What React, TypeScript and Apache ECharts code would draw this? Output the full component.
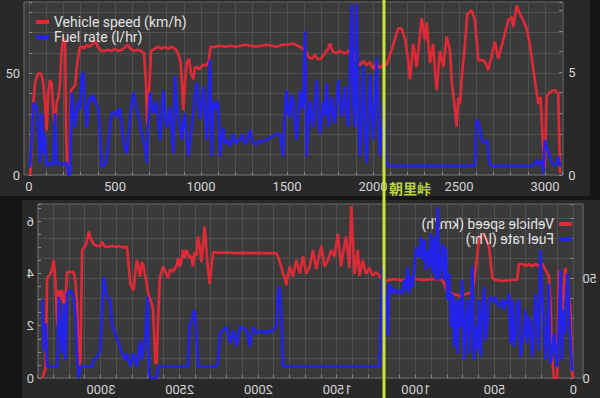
import React, { useEffect, useRef } from 'react';
import * as echarts from 'echarts';

// ---- labels ----
const speedName = 'Vehicle speed (km/h)';
const fuelName = 'Fuel rate (l/hr)';
const markerLabel = '朝里峠';
const topXLabels = [0, 500, 1000, 1500, 2000, 2500, 3000];
const topSpeedLabels = [0, 50];
const topFuelLabels = [0, 5];
const bottomSpeedLabels = [0, 50];
const bottomFuelLabels = [0, 2, 4, 6];

// ---- top chart data [distance, value] ----
const topSpeed: [number, number][] = [
  [0,0],[8,1],[18,20],[25,35],[35,45],[45,48],[54,50],[64,50],[74,49],[83,45],[93,35],[103,22],[112,40],[122,46.6],[132,45],[142,30],[151,23.7],[161,36],[171,38],[180,45],[190,62],[200,67],[210,66],[216,20],[222,1],[235,1],[245,42],[258,43],[268,44],[280,55],[296,63],[310,63],[320,62],[335,64],[350,63],[365,64],[384,66],[400,63],[420,61],[440,61],[460,61.5],[480,61],[500,62],[520,61],[540,61.5],[560,63],[575,64],[590,62],[610,61],[630,61.5],[650,61],[668,60],[680,45],[688,25],[700,45],[710,61],[730,62],[750,63],[770,62],[790,63],[810,62],[830,63],[850,62],[865,60],[880,56],[890,45],[897,32],[907,45],[917,55],[930,57],[942,50],[955,47],[965,53],[975,53],[990,52],[1010,54],[1033,54],[1045,56],[1055,63],[1080,63],[1110,63.5],[1140,63],[1170,63.5],[1200,63],[1230,63.5],[1260,64],[1290,63.5],[1320,63],[1350,63.5],[1380,64],[1410,63.5],[1440,63],[1470,64],[1500,64],[1537,64.6],[1560,63.5],[1576,63],[1595,62],[1614,60],[1625,58],[1643,57],[1663,59],[1675,57],[1692,57],[1705,58],[1721,60],[1740,62],[1750,64.6],[1760,62],[1769,60.5],[1790,60],[1808,61],[1828,60],[1847,60],[1860,61],[1876,61],[1890,58],[1905,55.5],[1924,54],[1944,56],[1963,54],[1982,55.5],[2002,52],[2021,55.5],[2035,53],[2050,53],[2065,55],[2079,54],[2110,62],[2147,72],[2166,72],[2176,69.4],[2186,67],[2205,56],[2215,47],[2234,64.5],[2254,53],[2273,69],[2283,77],[2302,66],[2312,75],[2331,55],[2350,64.5],[2360,51.5],[2370,41.7],[2389,61],[2409,53],[2428,68],[2448,61],[2457,46.6],[2477,32],[2486,23.7],[2496,38],[2506,35],[2515,46.6],[2535,64.5],[2548,79],[2573,81],[2593,76],[2612,56.4],[2641,56.4],[2655,55],[2670,51.5],[2690,58.8],[2709,65.4],[2728,57.2],[2757,66.2],[2786,76],[2806,77.6],[2816,72.7],[2835,83.3],[2854,79.2],[2873,76],[2893,72],[2910,65],[2922,58],[2941,46.6],[2961,35],[2974,38.4],[2990,12],[2999,4],[3009,38.4],[3028,40.8],[3057,41.7],[3077,40],[3087,1]
];

const topFuel: [number, number][] = [
  [0,0.4],[6,0.4],[16,1.7],[25,3.5],[35,3.4],[45,3.3],[54,2.3],[64,0.6],[74,3.0],[83,1.05],[93,2.0],[103,0.4],[112,0.6],[122,0.5],[132,0.6],[141,0.5],[151,3.0],[161,0.5],[180,0.6],[200,0.5],[219,0.6],[229,0],[238,0],[248,4.0],[258,3.2],[267,2.3],[277,3.0],[287,3.6],[297,3.2],[306,4.8],[316,5.0],[326,3.5],[335,2.3],[345,3.4],[355,3.8],[365,3.6],[374,3.9],[384,3.6],[393,3.4],[403,3.2],[413,2.0],[422,0.4],[432,0.5],[442,0.5],[451,0.8],[461,1.5],[471,2.4],[480,3.0],[490,3.0],[500,3.1],[510,2.8],[519,3.2],[529,3.2],[539,2.4],[548,1.7],[558,1.3],[568,1.05],[578,1.9],[588,2.8],[597,3.5],[607,4.0],[616,3.6],[626,3.2],[636,2.9],[645,2.5],[655,2.0],[665,1.7],[675,1.3],[684,0.6],[694,2.5],[703,4.0],[713,3.5],[723,3.0],[732,3.3],[742,3.6],[752,2.5],[762,1.7],[771,2.9],[781,4.1],[790,3.0],[800,2.3],[810,2.9],[820,3.3],[829,2.2],[839,1.05],[849,4.8],[858,3.5],[868,2.8],[878,2.3],[888,1.7],[897,2.5],[907,3.0],[916,2.0],[926,0.9],[936,1.6],[946,2.3],[956,3.2],[966,3.9],[975,4.5],[985,3.5],[994,2.7],[1004,3.5],[1014,4.3],[1024,3.0],[1033,1.7],[1043,3.5],[1052,5.6],[1062,0.9],[1072,3.6],[1085,3.2],[1100,3.6],[1110,0.9],[1120,1.8],[1130,2.3],[1140,1.5],[1149,1.7],[1160,1.6],[1170,1.4],[1180,1.8],[1188,2.0],[1200,1.5],[1215,1.7],[1227,1.7],[1240,2.0],[1255,1.5],[1270,1.7],[1285,2.2],[1300,1.6],[1315,1.5],[1324,1.5],[1340,1.7],[1355,1.6],[1370,1.7],[1382,1.7],[1400,1.8],[1420,1.9],[1440,2.0],[1459,2.0],[1478,0.9],[1490,3.5],[1498,4.1],[1507,3.0],[1517,2.8],[1527,3.9],[1537,3.6],[1546,2.5],[1556,1.7],[1566,3.0],[1576,4.1],[1586,3.2],[1595,3.6],[1605,7.0],[1614,0.9],[1624,2.5],[1634,3.6],[1643,2.8],[1653,2.35],[1662,3.5],[1672,4.6],[1682,3.0],[1692,2.0],[1701,2.8],[1711,3.6],[1720,2.9],[1730,4.45],[1740,2.35],[1750,3.2],[1759,3.8],[1769,2.8],[1779,2.5],[1788,3.6],[1798,4.6],[1808,3.5],[1818,2.84],[1828,3.5],[1837,4.3],[1847,3.0],[1857,2.35],[1866,5.0],[1876,8.3],[1886,3.6],[1895,2.35],[1905,8.3],[1914,3.0],[1924,0.9],[1934,3.0],[1944,5.3],[1953,2.5],[1963,0.57],[1972,2.5],[1982,4.9],[1992,3.0],[2002,1.7],[2011,3.5],[2021,5.7],[2031,3.0],[2041,0.9],[2050,2.0],[2060,3.6],[2066,3.0],[2072,1.05],[2083,0.45],[2200,0.45],[2300,0.46],[2400,0.45],[2500,0.45],[2593,0.45],[2602,2.7],[2612,2.5],[2622,2.35],[2631,1.7],[2641,1.6],[2651,1.54],[2665,1.7],[2676,0.57],[2690,0.45],[2800,0.45],[2932,0.45],[2951,0.73],[2965,0.5],[2980,0.7],[2990,0.08],[2999,1.7],[3008,1.4],[3018,1.2],[3028,0.9],[3038,0.57],[3057,0.49],[3070,0.6],[3077,0.9],[3087,0.4]
];

// ---- bottom chart data [distance, value] ----
const bottomSpeed: [number, number][] = [
  [0,0],[8,2],[19,36],[30,40],[40,48],[51,55],[62,45],[72,30],[82,42],[93,54],[100,20],[103,0],[124,0],[135,10],[146,40],[156,51],[177,54],[198,57],[220,56],[241,57],[262,56],[283,57],[304,56],[325,57],[346,57],[357,49],[400,49],[450,48.5],[494,49],[515,50],[536,66],[557,70],[578,72],[599,70],[620,55],[641,43],[680,42],[720,41],[760,42],[800,43],[815,46],[831,49],[880,49.5],[950,49],[1000,49.5],[1050,48.5],[1100,49],[1150,49.5],[1190,48.5],[1211,49],[1232,51],[1253,53],[1274,51],[1295,55],[1317,52],[1338,59],[1359,51],[1369,64],[1390,52],[1411,86],[1422,55],[1443,70.7],[1464,62],[1475,55.7],[1496,72],[1517,60.7],[1538,64],[1559,59],[1580,55.7],[1601,66],[1633,54.5],[1654,64],[1675,55.7],[1696,52.3],[1717,60.7],[1738,52.3],[1760,59],[1781,50.7],[1802,55.7],[1823,46.5],[1834,50.7],[1844,52],[1855,55.7],[1876,60.7],[1886,62.3],[1907,62.5],[1950,62.3],[2000,62.6],[2050,62.4],[2100,62.6],[2150,62.4],[2200,62.8],[2250,62.6],[2287,63],[2300,55],[2310,47],[2321,55],[2342,75.7],[2353,65],[2363,58],[2373,66],[2384,70.7],[2395,61],[2405,63],[2416,55.7],[2426,61],[2437,60],[2447,62],[2458,64],[2468,60],[2479,64],[2490,58],[2500,55.7],[2510,60],[2521,55.7],[2531,55],[2542,53],[2553,54],[2563,54],[2574,50],[2584,52],[2595,54],[2605,55.7],[2627,50],[2637,30],[2647,7],[2655,8],[2670,35],[2690,40],[2700,42.3],[2710,48],[2720,50.7],[2730,56],[2741,58],[2751,50.7],[2762,55],[2772,59],[2783,52],[2793,44],[2814,47],[2835,65.7],[2860,65.3],[2880,66],[2900,65.5],[2930,66],[2952,65.7],[2973,65.5],[2994,68.2],[3004,66],[3025,66],[3047,67],[3067,70],[3078,73.2],[3088,69],[3099,66],[3110,65],[3120,64],[3131,8],[3141,6],[3152,38],[3162,48],[3173,53],[3194,53],[3215,53],[3226,40],[3232,26],[3240,38],[3247,44],[3257,39],[3268,44],[3278,26],[3289,48],[3300,59],[3310,55],[3321,52],[3342,50],[3352,5],[3363,2],[3373,0]
];

const bottomFuel: [number, number][] = [
  [0,0.3],[8,0.31],[19,1.45],[30,2.98],[40,4.0],[51,1.7],[62,2.6],[72,0.69],[82,4.12],[93,1.96],[103,0.43],[114,1.1],[124,1.7],[135,0.9],[146,0.56],[156,3.61],[166,1.6],[177,0.69],[188,2.2],[198,2.98],[209,4.89],[220,1.07],[230,2.2],[241,3.23],[252,1.6],[262,0.81],[273,2.0],[283,2.34],[294,1.3],[304,2.6],[315,1.6],[325,1.45],[335,0.81],[346,2.98],[357,2.85],[367,1.6],[378,1.2],[388,2.98],[399,1.32],[409,3.23],[420,2.85],[430,2.98],[441,2.6],[452,2.98],[462,2.8],[473,2.72],[484,2.9],[494,3.1],[505,2.9],[515,2.98],[525,3.1],[536,2.98],[546,2.21],[557,1.45],[567,3.49],[578,2.47],[589,0.81],[599,2.98],[610,1.07],[620,1.96],[631,0.69],[641,4.25],[652,2.47],[662,0.94],[673,2.98],[684,1.96],[694,0.69],[705,3.74],[715,1.96],[726,2.98],[736,0.94],[747,2.98],[757,1.2],[768,3.23],[778,1.96],[789,4.0],[800,2.98],[810,5.0],[821,3.74],[831,5.14],[842,4.2],[852,3.74],[863,6.54],[873,3.74],[884,5.39],[894,4.0],[905,5.52],[916,4.25],[926,4.89],[937,4.12],[947,5.27],[958,4.5],[968,5.39],[979,4.63],[989,4.76],[1000,5.0],[1010,4.2],[1021,3.49],[1031,3.9],[1042,3.23],[1053,4.25],[1063,3.36],[1074,3.74],[1084,3.23],[1095,3.3],[1105,3.36],[1116,3.23],[1127,3.3],[1137,3.4],[1148,3.23],[1158,3.4],[1169,3.61],[1179,1.6],[1190,2.98],[1200,3.8],[1211,4.25],[1222,2.0],[1232,0.43],[1300,0.43],[1400,0.43],[1500,0.43],[1600,0.43],[1700,0.43],[1800,0.43],[1844,0.43],[1855,2.34],[1866,3.5],[1876,3.23],[1886,1.96],[1897,1.9],[1907,1.83],[1920,1.75],[1935,1.85],[1949,1.7],[1965,1.8],[1980,1.75],[1995,1.8],[2013,1.7],[2034,1.96],[2055,1.2],[2076,1.83],[2097,1.9],[2118,1.96],[2139,1.2],[2160,1.83],[2181,1.32],[2202,1.96],[2224,1.83],[2245,1.7],[2255,0.69],[2266,0.43],[2320,0.43],[2384,0.43],[2395,1.7],[2405,2.6],[2416,2.47],[2426,2.09],[2437,2.09],[2447,0.43],[2500,0.43],[2560,0.43],[2637,0.43],[2647,0],[2679,0],[2694,0.05],[2705,3.1],[2715,1.9],[2720,1.45],[2741,0.69],[2751,1.45],[2772,0.43],[2793,0.94],[2814,0.43],[2835,0.94],[2846,0.69],[2867,0.94],[2888,1.32],[2909,1.7],[2920,1.9],[2930,1.96],[2941,2.98],[2962,3.1],[2973,3.5],[2983,3.87],[2994,2.5],[3004,1.07],[3025,0.81],[3047,0.69],[3057,0.43],[3131,0.43],[3141,0],[3152,0.81],[3162,2.34],[3173,3.1],[3194,3.36],[3215,3.23],[3226,0.69],[3236,2.85],[3247,0.94],[3257,1.83],[3268,3.1],[3278,0.43],[3342,0.43],[3352,2.09],[3363,1.07],[3373,2.98]
];

const RED = '#dc2a36';
const BLUE = '#2323ea';
const LABEL = '#d4d4d4';
const GRIDLINE = '#505050';
const PLOT_BG = '#3a3a3a';
const PANEL_BG = '#292929';
const MARK = '#c8e43c';
const FONT = 'Roboto';

interface Cfg {
  xMax: number;
  speedMax: number;
  fuelMax: number;
  fuelInterval: number;
  xLabels: number[];
  speedLabels: number[];
  fuelLabels: number[];
  speed: [number, number][];
  fuel: [number, number][];
  grid: { left: number; top: number; width: number; height: number };
  plotRect: { x: number; y: number; width: number; height: number };
  panelRect: { x: number; y: number; width: number; height: number };
  legend: { left: number; top: number };
  markX: number;
  markH: number;
  withMarkText: boolean;
  speedMargin: number;
  fuelMargin: number;
}

function buildOption(c: Cfg): any {
  const tick = { show: true, inside: true, length: 3, lineStyle: { color: '#8c8c8c' } };
  const graphic: any[] = [
    { type: 'rect', z: -20, silent: true, shape: c.panelRect, style: { fill: PANEL_BG } },
    { type: 'rect', z: -10, silent: true, shape: c.plotRect, style: { fill: PLOT_BG, stroke: '#6e6e6e', lineWidth: 1 } },
    { type: 'line', z: 100, silent: true, shape: { x1: c.markX, y1: 0, x2: c.markX, y2: c.markH }, style: { stroke: MARK, lineWidth: 3 } },
  ];
  if (c.withMarkText) {
    graphic.push({
      type: 'text', z: 100, x: c.markX + 5, y: 181, silent: true,
      style: { text: markerLabel, fill: '#b6d43c', fontSize: 14, fontWeight: 'bold', fontFamily: '"Noto Sans CJK JP"' },
    });
  }
  return {
    animation: false,
    textStyle: { fontFamily: FONT },
    graphic,
    grid: { ...c.grid, show: false, containLabel: false },
    legend: {
      orient: 'vertical', left: c.legend.left, top: c.legend.top,
      icon: 'rect', itemWidth: 13, itemHeight: 4, itemGap: 1,
      textStyle: { color: '#e2e2e2', fontSize: 14, lineHeight: 14, fontFamily: FONT },
      data: [speedName, fuelName],
    },
    xAxis: {
      type: 'value', min: 0, max: c.xMax, interval: 100,
      axisLine: { show: false }, axisTick: tick,
      axisLabel: { color: LABEL, fontSize: 13, margin: 5, formatter: (v: number) => (c.xLabels.includes(v) ? String(v) : '') },
      splitLine: { show: true, lineStyle: { color: GRIDLINE, width: 1 } },
    },
    yAxis: [
      {
        type: 'value', min: 0, max: c.speedMax, interval: 10, position: 'left',
        axisLine: { show: false }, axisTick: tick,
        axisLabel: { color: LABEL, fontSize: 13, margin: c.speedMargin, formatter: (v: number) => (c.speedLabels.includes(v) ? String(v) : '') },
        splitLine: { show: true, lineStyle: { color: GRIDLINE, width: 1 } },
      },
      {
        type: 'value', min: 0, max: c.fuelMax, interval: c.fuelInterval, position: 'right',
        axisLine: { show: false }, axisTick: tick,
        axisLabel: { color: LABEL, fontSize: 13, margin: c.fuelMargin, formatter: (v: number) => (c.fuelLabels.includes(v) ? String(v) : '') },
        splitLine: { show: false },
      },
    ],
    series: [
      { name: speedName, type: 'line', yAxisIndex: 0, data: c.speed, showSymbol: false, color: RED, lineStyle: { color: RED, width: 2.7 }, z: 3 },
      { name: fuelName, type: 'line', yAxisIndex: 1, data: c.fuel, showSymbol: false, color: BLUE, lineStyle: { color: BLUE, width: 2.7 }, z: 4 },
    ],
  };
}

function Chart({ cfg, style }: { cfg: Cfg; style: React.CSSProperties }) {
  const ref = useRef<HTMLDivElement>(null);
  useEffect(() => {
    if (!ref.current) return;
    const chart = echarts.init(ref.current, undefined, { renderer: 'svg' });
    chart.setOption(buildOption(cfg));
    return () => chart.dispose();
  }, []);
  return <div ref={ref} style={style} />;
}

const topCfg: Cfg = {
  xMax: 3100, speedMax: 85, fuelMax: 8.4, fuelInterval: 1,
  xLabels: topXLabels, speedLabels: topSpeedLabels, fuelLabels: topFuelLabels,
  speed: topSpeed, fuel: topFuel,
  grid: { left: 29, top: 2, width: 533.2, height: 173 },
  plotRect: { x: 24, y: 2, width: 539, height: 173 },
  panelRect: { x: 0, y: 0, width: 590, height: 196 },
  legend: { left: 31, top: 10 },
  markX: 384, markH: 198, withMarkText: true,
  speedMargin: 9, fuelMargin: 6,
};

const bottomCfg: Cfg = {
  xMax: 3400, speedMax: 87, fuelMax: 6.65, fuelInterval: 0.5,
  xLabels: topXLabels, speedLabels: bottomSpeedLabels, fuelLabels: bottomFuelLabels,
  speed: bottomSpeed, fuel: bottomFuel,
  grid: { left: 22, top: 6, width: 540, height: 174 },
  plotRect: { x: 17, y: 6, width: 545, height: 174 },
  panelRect: { x: 0, y: 2, width: 578, height: 198 },
  legend: { left: 23, top: 14 },
  markX: 216, markH: 200, withMarkText: false,
  speedMargin: 9, fuelMargin: 4,
};

export default function App() {
  return (
    <div style={{ position: 'fixed', left: 0, top: 0, width: 600, height: 398, background: '#161616', overflow: 'hidden' }}>
      <Chart cfg={topCfg} style={{ position: 'absolute', left: 0, top: 0, width: 600, height: 198 }} />
      <Chart cfg={bottomCfg} style={{ position: 'absolute', left: 0, top: 198, width: 600, height: 200, transform: 'scaleX(-1)' }} />
    </div>
  );
}
